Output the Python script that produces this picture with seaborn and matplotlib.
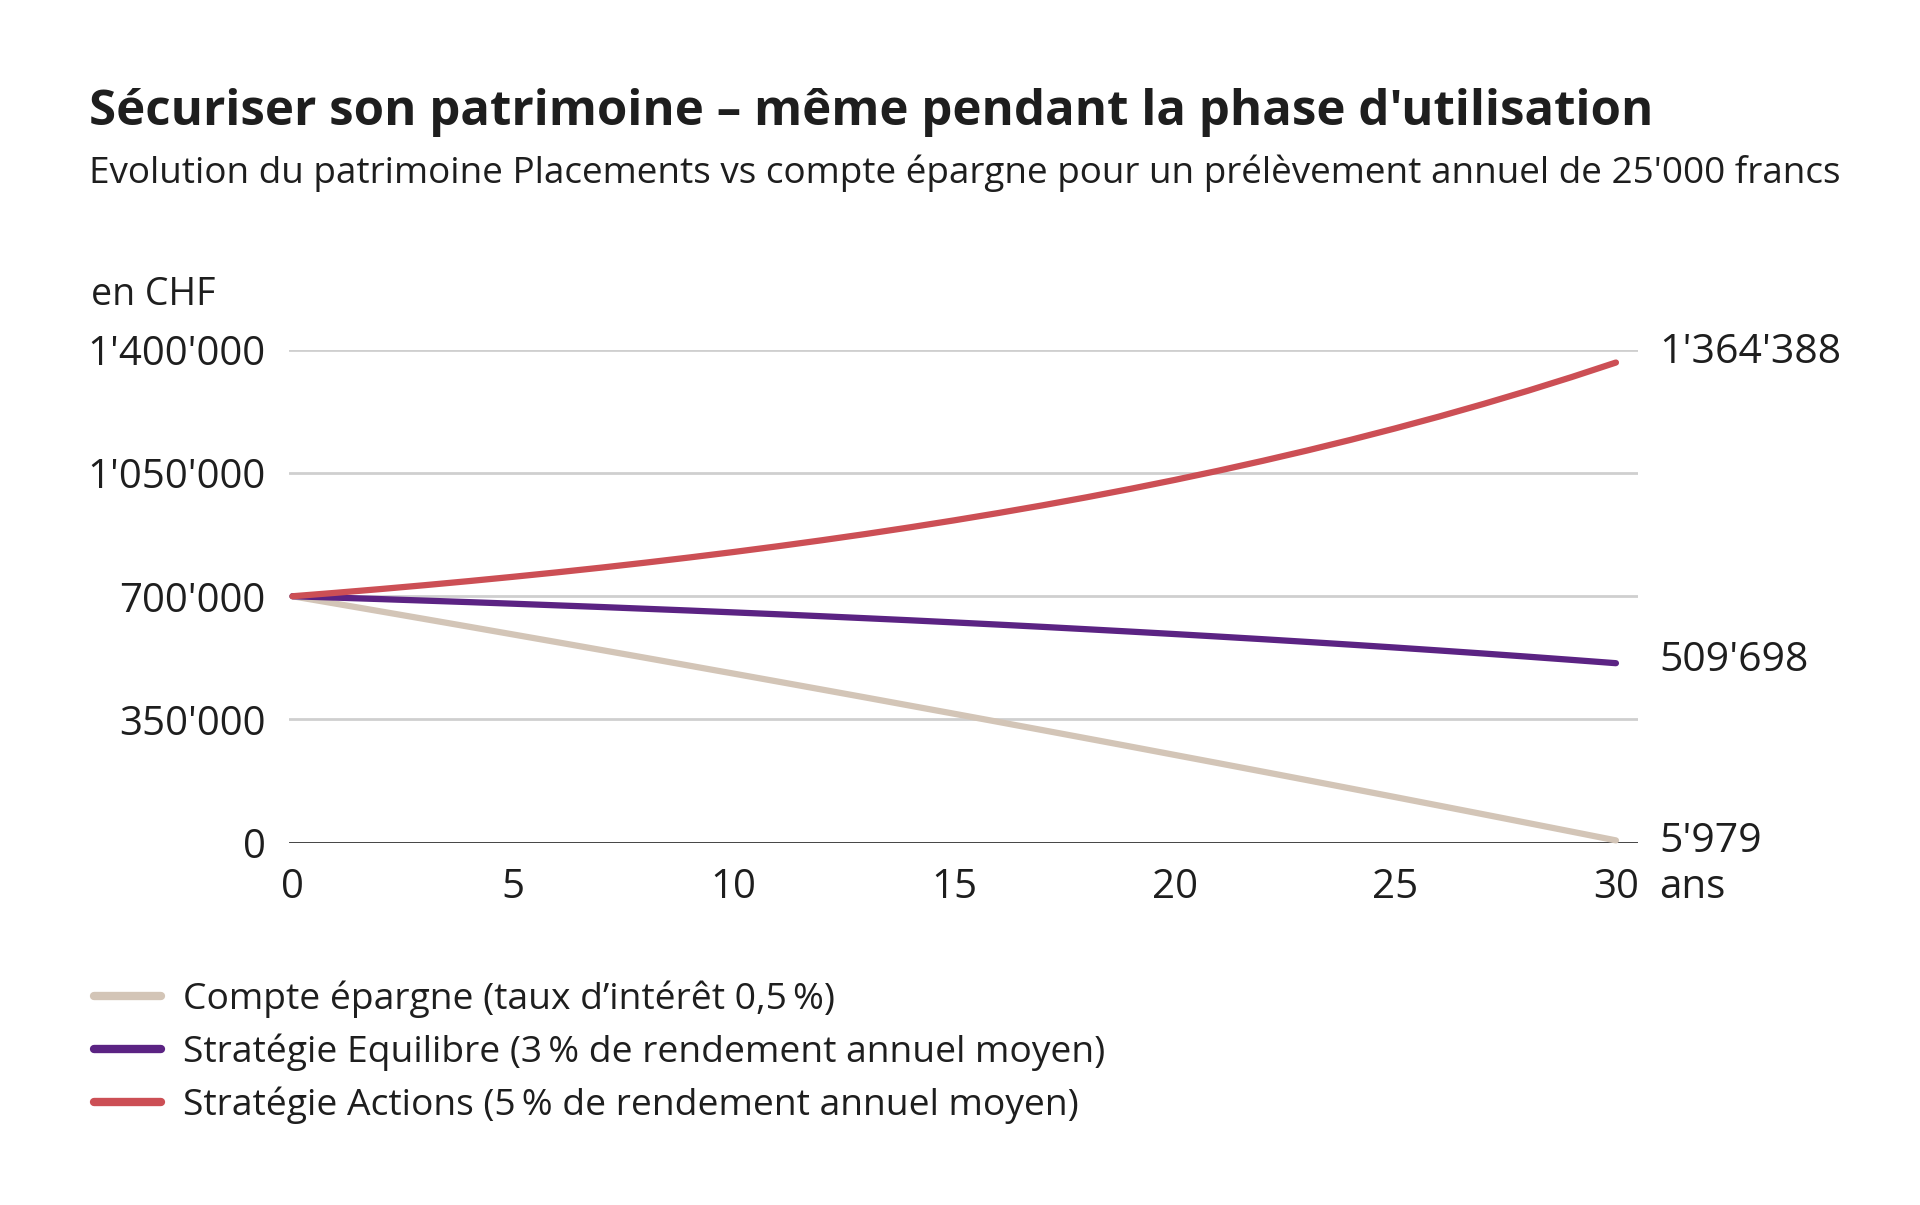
import numpy as np
import pandas as pd
import seaborn as sns
import matplotlib.pyplot as plt

sns.set_theme(style="white")
plt.rcParams["font.family"] = ["Open Sans", "DejaVu Sans"]

# years since start of withdrawals
years = list(range(31))

# wealth in CHF
epargne = [700000, 678500, 656900, 635200, 613400, 591400, 569400, 547200,
           525000, 502600, 480100, 457500, 434800, 412000, 389000, 366000,
           342800, 319500, 296100, 272600, 248900, 225200, 201300, 177300,
           153200, 129000, 104600, 80100, 55500, 30800, 5979]
equilibre = [700000, 696000, 691900, 687600, 683300, 678800, 674100, 669400,
             664400, 659400, 654100, 648800, 643200, 637500, 631700, 625600,
             619400, 613000, 606300, 599500, 592500, 585300, 577900, 570200,
             562300, 554200, 545800, 537200, 528300, 519100, 509698]
actions = [700000, 710000, 720500, 731500, 743100, 755300, 768000, 781400,
           795500, 810300, 825800, 842100, 859200, 877100, 896000, 915800,
           936600, 958400, 981300, 1005400, 1030700, 1057200, 1085100,
           1114300, 1145000, 1177300, 1211100, 1246700, 1284000, 1323200,
           1364388]

series_names = [
    "Compte épargne (taux d\u2019intérêt 0,5\u2009%)",
    "Stratégie Equilibre (3\u2009% de rendement annuel moyen)",
    "Stratégie Actions (5\u2009% de rendement annuel moyen)",
]
end_labels = ["5'979", "509'698", "1'364'388"]
colors = ["#D3C5B7", "#5B2383", "#CC4F55"]

y_ticks = [0, 350000, 700000, 1050000, 1400000]
y_ticklabels = ["0", "350'000", "700'000", "1'050'000", "1'400'000"]
x_ticks = [0, 5, 10, 15, 20, 25, 30]

df = pd.DataFrame({
    "annee": years * 3,
    "valeur": epargne + equilibre + actions,
    "serie": [series_names[0]] * 31 + [series_names[1]] * 31 + [series_names[2]] * 31,
})

text_col = "#1e1e1e"

fig = plt.figure(figsize=(19.2, 12.05), dpi=100)
ax = fig.add_axes([289 / 1920, 1 - 842.5 / 1205, (1638 - 289) / 1920, (842.5 - 350) / 1205])

sns.lineplot(data=df, x="annee", y="valeur", hue="serie", hue_order=series_names,
             palette=colors, lw=4.5, ax=ax, clip_on=False, zorder=3)
for line in ax.get_lines():
    line.set_solid_capstyle("round")

ax.set_xlim(-0.08, 30.5)
ax.set_ylim(0, 1400000)
ax.set_yticks(y_ticks)
ax.set_yticklabels(y_ticklabels)
ax.set_xticks(x_ticks)
ax.set_xlabel("")
ax.set_ylabel("")
ax.tick_params(axis="both", length=0, labelsize=29, colors=text_col)
ax.tick_params(axis="y", pad=17)
ax.tick_params(axis="x", pad=18)
for y in y_ticks[1:]:
    ax.axhline(y, color="#cfcfcf", lw=2, zorder=1)
ax.axhline(0, color="#333333", lw=2, zorder=2)
sns.despine(ax=ax, left=True, bottom=True)

# end-of-line values
offsets = [-1, 1.5, 7]
for vals, lab, off in zip([epargne, equilibre, actions], end_labels, offsets):
    ax.annotate(lab, xy=(30, vals[-1]), xytext=(31, off), textcoords="offset points",
                va="center", ha="left", fontsize=29.5, color=text_col)
ax.annotate("ans", xy=(30, 0), xytext=(31, -18), textcoords="offset points",
            va="top", ha="left", fontsize=29, color=text_col)

fig.text(89 / 1920, 1 - 125 / 1205, "Sécuriser son patrimoine \u2013 même pendant la phase d'utilisation",
         fontsize=35.4, fontweight="bold", color=text_col, ha="left", va="baseline")
fig.text(89 / 1920, 1 - 183 / 1205,
         "Evolution du patrimoine Placements vs compte épargne pour un prélèvement annuel de 25'000 francs",
         fontsize=26.6, color=text_col, ha="left", va="baseline")
fig.text(91 / 1920, 1 - 305 / 1205, "en CHF", fontsize=27, color=text_col,
         ha="left", va="baseline")

sns.move_legend(ax, loc="upper left", bbox_to_anchor=(60 / 1920, 1 - 947 / 1205),
                bbox_transform=fig.transFigure, frameon=False, title=None,
                fontsize=26.8, handlelength=1.8, handletextpad=0.6, labelspacing=0.42,
                labelcolor=text_col)
for h in ax.get_legend().get_lines():
    h.set_linewidth(6)
    h.set_solid_capstyle("round")

fig.savefig("out.png", dpi=100, facecolor="white")
